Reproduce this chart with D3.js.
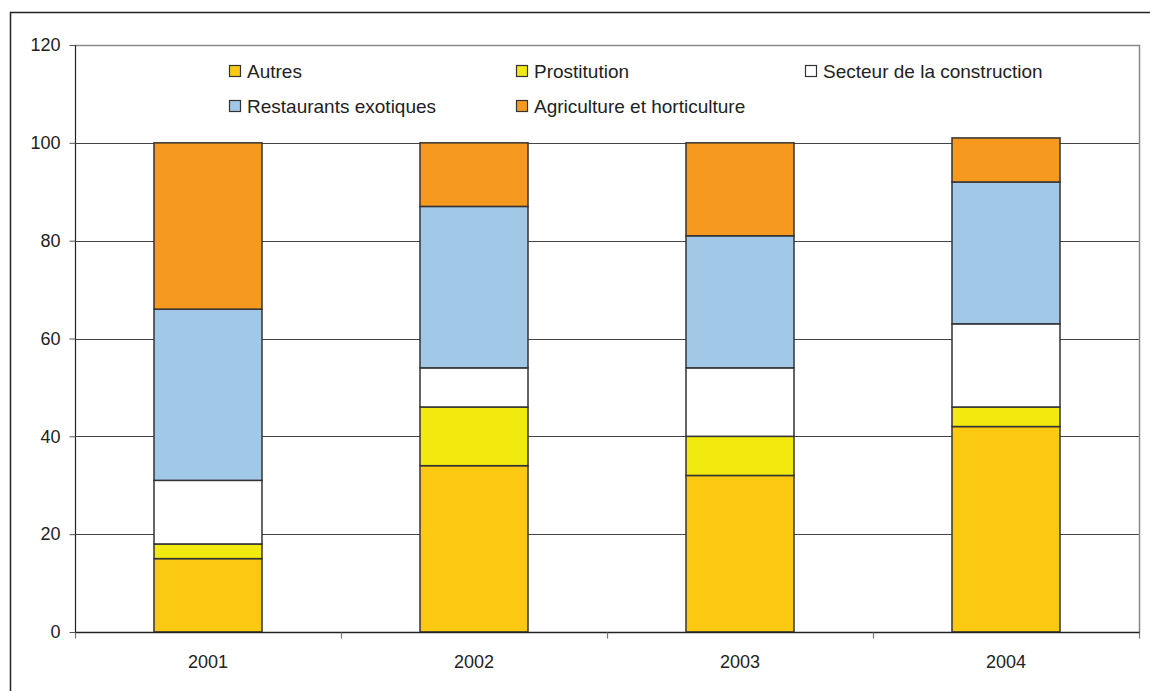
<!DOCTYPE html>
<html>
<head>
<meta charset="utf-8">
<script src="https://cdn.jsdelivr.net/npm/d3@7"></script>
<style>
  html, body { margin: 0; padding: 0; background: #fff; }
  svg { display: block; font-family: "Liberation Sans", Arial, sans-serif; }
</style>
</head>
<body>
<svg id="chart" width="1150" height="691"></svg>
<script>
// Years on the x axis
const years = ["2001", "2002", "2003", "2004"];

// Sector names, stacked from the bottom up
const sectors = ["Autres", "Prostitution", "Secteur de la construction", "Restaurants exotiques", "Agriculture et horticulture"];

// Share per sector and year (%)
const autres        = [15, 34, 32, 42];
const prostitution  = [3, 12, 8, 4];
const construction  = [13, 8, 14, 17];
const restaurants   = [35, 33, 27, 29];
const agriculture   = [34, 13, 19, 9];

const yTicks = [0, 20, 40, 60, 80, 100, 120];

const sectorColors = ["#FCC912", "#F2E90F", "#FFFFFF", "#A2C8E8", "#F5991F"];

// Legend layout: order and grid position (row, column)
const legendOrder = [
  { name: "Autres", row: 0, col: 0 },
  { name: "Prostitution", row: 0, col: 1 },
  { name: "Secteur de la construction", row: 0, col: 2 },
  { name: "Restaurants exotiques", row: 1, col: 0 },
  { name: "Agriculture et horticulture", row: 1, col: 1 }
];

const svg = d3.select("#chart");
const plot = { left: 75, right: 1139, top: 45, bottom: 632 };

// Outer frame (clipped by the page on the right and bottom)
svg.append("path")
  .attr("d", "M10.5,700 V12.5 H1160")
  .attr("fill", "none")
  .attr("stroke", "#222")
  .attr("stroke-width", 1.5);

const x = d3.scaleBand().domain(years).range([plot.left, plot.right]).paddingInner(0.594).paddingOuter(0.297);
const y = d3.scaleLinear().domain([0, 120]).range([plot.bottom, plot.top]);

// Horizontal gridlines
svg.append("g")
  .selectAll("line")
  .data(yTicks.filter(d => d > 0 && d < 120))
  .join("line")
  .attr("x1", plot.left).attr("x2", plot.right)
  .attr("y1", d => Math.round(y(d)) + 0.5).attr("y2", d => Math.round(y(d)) + 0.5)
  .attr("stroke", "#444").attr("stroke-width", 1);

// Plot area border (top and right)
svg.append("path")
  .attr("d", `M${plot.left},${Math.round(y(120)) + 0.5} H${plot.right + 0.5} V${plot.bottom}`)
  .attr("fill", "none").attr("stroke", "#888").attr("stroke-width", 1.5);

// Stacked bars
const table = years.map((yr, i) => ({
  year: yr,
  "Autres": autres[i],
  "Prostitution": prostitution[i],
  "Secteur de la construction": construction[i],
  "Restaurants exotiques": restaurants[i],
  "Agriculture et horticulture": agriculture[i]
}));
const stacked = d3.stack().keys(sectors)(table);
const color = d3.scaleOrdinal().domain(sectors).range(sectorColors);

svg.append("g")
  .selectAll("g")
  .data(stacked)
  .join("g")
  .attr("fill", d => color(d.key))
  .selectAll("rect")
  .data(d => d)
  .join("rect")
  .attr("x", d => x(d.data.year))
  .attr("width", x.bandwidth())
  .attr("y", d => y(d[1]))
  .attr("height", d => y(d[0]) - y(d[1]))
  .attr("stroke", "#333")
  .attr("stroke-width", 1.5);

// Y axis
const yAxis = d3.axisLeft(y).tickValues(yTicks).tickSize(6).tickPadding(9);
const gy = svg.append("g").attr("transform", `translate(${plot.left + 0.5},0)`).call(yAxis);
gy.select(".domain").attr("stroke", "#222").attr("stroke-width", 1.2).attr("d", `M0,${plot.top}V${plot.bottom}`);
gy.selectAll(".tick line").attr("stroke", "#555");
gy.selectAll(".tick text").attr("font-size", 18).attr("fill", "#222").attr("font-family", "Liberation Sans, Arial, sans-serif");

// X axis with tick marks at band boundaries
const gx = svg.append("g").attr("transform", `translate(0,${plot.bottom + 0.5})`);
gx.append("line")
  .attr("x1", plot.left).attr("x2", plot.right + 1)
  .attr("stroke", "#222").attr("stroke-width", 1.5);
const boundaries = years.map(d => x(d) - x.step() * x.paddingOuter()).concat([plot.right]);
gx.selectAll("line.tick")
  .data(boundaries)
  .join("line")
  .attr("class", "tick")
  .attr("x1", d => Math.round(d) + 0.5).attr("x2", d => Math.round(d) + 0.5)
  .attr("y1", 0).attr("y2", 6)
  .attr("stroke", "#777").attr("stroke-width", 1.2);
gx.selectAll("text")
  .data(years)
  .join("text")
  .attr("x", d => x(d) + x.bandwidth() / 2)
  .attr("y", 35)
  .attr("text-anchor", "middle")
  .attr("font-size", 18)
  .attr("fill", "#222")
  .text(d => d);

// Legend
const legendX = [229, 516, 805];
const legendY = [71, 106];
const lg = svg.append("g");
const item = lg.selectAll("g")
  .data(legendOrder)
  .join("g")
  .attr("transform", d => `translate(${legendX[d.col]},${legendY[d.row]})`);
item.append("rect")
  .attr("x", 0.5).attr("y", -5.5)
  .attr("width", 11).attr("height", 11)
  .attr("fill", d => color(d.name))
  .attr("stroke", "#333").attr("stroke-width", 1.2);
item.append("text")
  .attr("x", 18).attr("y", 7)
  .attr("font-size", 19)
  .attr("fill", "#222")
  .text(d => d.name);
</script>
</body>
</html>
